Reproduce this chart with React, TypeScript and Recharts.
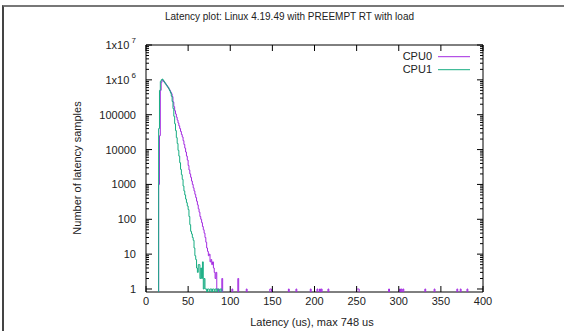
import { ComposedChart, Line, XAxis, YAxis, Legend, ReferenceArea } from "recharts";

// latency histogram, 1 us bins
const CPU0_START = 15;
const CPU0_BODY = [
  1000, 25000, 500000, 850000, 1000000, 950000, 880000, 820000, 760000, 700000,
  650000, 600000, 550000, 500000, 450000, 400000, 330000, 230000, 170000, 130000,
  105000, 85000, 70000, 58000, 48000, 40000, 33000, 27000, 23000, 18000,
  14000, 11000, 8500, 6500, 5000, 3500, 2600, 2000, 1600, 1250,
  1000, 800, 650, 520, 420, 330, 260, 200, 160, 120,
  100, 80, 62, 50, 40, 30, 22, 15, 12, 9,
  10, 6, 7, 5, 6, 4, 3, 2, 3, 1, 1,
];
const CPU0_OUTLIERS: [number, number][] = [
  [90, 2], [102, 1], [109, 2], [119, 1], [147, 1], [148, 1], [169, 1], [178, 1],
  [195, 1], [203, 1], [206, 1], [208, 1], [216, 1], [250, 1], [251, 1], [252, 1],
  [288, 1], [301, 1], [303, 1], [305, 1], [331, 1], [342, 1], [369, 1], [373, 1], [381, 1],
];

const CPU1_START = 15;
const CPU1_BODY = [
  40000, 500000, 900000, 1000000, 1050000, 980000, 900000, 830000, 770000, 710000,
  650000, 600000, 540000, 480000, 420000, 340000, 240000, 150000, 90000, 55000,
  35000, 22000, 15000, 9500, 6500, 4200, 2700, 1900, 1400, 900,
  650, 500, 380, 300, 240, 190, 120, 70, 45, 38,
  30, 25, 15, 9, 7, 4, 3, 5, 5, 2,
  4, 2, 6, 1, 2, 1, 1, 0, 1, 1,
  0, 1, 1, 0, 1, 1, 0, 1, 1, 0,
  1, 1, 0, 1, 1,
];
const CPU1_OUTLIERS: [number, number][] = [];

const SERIES = [
  { key: "cpu0", name: "CPU0", color: "#a32be0" },
  { key: "cpu1", name: "CPU1", color: "#17ad82" },
];

const X_TICKS = [0, 50, 100, 150, 200, 250, 300, 350, 400];
const Y_DECADES = [1, 10, 100, 1000, 10000, 100000, 1000000, 10000000];
const Y_LABELS = ["1", "10", "100", "1000", "10000", "100000", "1x10|6", "1x10|7"];

const Y_MIN = 0.82;
const Y_MAX = 1e7;
const BELOW_FLOOR = 0.1; // empty bins sit under the axis and get clipped

const W = 564;
const H = 331;
const PLOT_LEFT = 146;
const PLOT_TOP = 45;
const PLOT_W = 337;
const PLOT_H = 247;

const FONT = "'Liberation Sans', Arial, sans-serif";
const INK = "#222";

function counts(start: number, body: number[], outliers: [number, number][]) {
  const m = new Map<number, number>();
  body.forEach((v, i) => m.set(start + i, v));
  outliers.forEach(([x, v]) => m.set(x, v));
  return m;
}

const c0 = counts(CPU0_START, CPU0_BODY, CPU0_OUTLIERS);
const c1 = counts(CPU1_START, CPU1_BODY, CPU1_OUTLIERS);
const rows = Array.from({ length: 401 }, (_, us) => {
  const a = c0.get(us) ?? 0;
  const b = c1.get(us) ?? 0;
  return { us, cpu0: a > 0 ? a : BELOW_FLOOR, cpu1: b > 0 ? b : BELOW_FLOOR };
});

const Y_TICKS: number[] = [];
Y_DECADES.forEach((d, i) => {
  Y_TICKS.push(d);
  if (i < Y_DECADES.length - 1) for (let k = 2; k <= 9; k++) Y_TICKS.push(d * k);
});

type TickProps = { x?: number; y?: number; payload?: { value?: number } };

function YTick({ x = 0, y = 0, payload }: TickProps) {
  const v = payload?.value ?? 0;
  const idx = Y_DECADES.indexOf(v);
  const len = idx >= 0 ? 6 : 3;
  const label = idx >= 0 ? Y_LABELS[idx].split("|") : null;
  return (
    <g>
      <line x1={x} x2={x + len} y1={y} y2={y} stroke="#000" />
      <line x1={x + PLOT_W - len} x2={x + PLOT_W} y1={y} y2={y} stroke="#000" />
      {label && (
        <text x={x - 10} y={y} dy="0.36em" textAnchor="end" fontFamily={FONT} fontSize={11} fill={INK}>
          {label[0]}
          {label[1] && (
            <tspan dy={-6} fontSize={8}>
              {" " + label[1]}
            </tspan>
          )}
        </text>
      )}
    </g>
  );
}

function XTick({ x = 0, y = 0, payload }: TickProps) {
  return (
    <g>
      <line x1={x} x2={x} y1={y} y2={y - 6} stroke="#000" />
      <line x1={x} x2={x} y1={y - PLOT_H} y2={y - PLOT_H + 6} stroke="#000" />
      <text x={x} y={y + 13} textAnchor="middle" fontFamily={FONT} fontSize={11} fill={INK}>
        {payload?.value}
      </text>
    </g>
  );
}

function KeyBox({ payload }: { payload?: { value?: string; color?: string }[] }) {
  return (
    <div style={{ width: 100, fontFamily: FONT, fontSize: 11, color: INK }}>
      {(payload ?? []).map((e) => (
        <div key={e.value} style={{ display: "flex", alignItems: "center", height: 13.4 }}>
          <span style={{ width: 60, textAlign: "right", lineHeight: "13px" }}>{e.value}</span>
          <svg width={40} height={13.4} style={{ display: "block" }}>
            <line x1={6} x2={38} y1={6.7} y2={6.7} stroke={e.color} />
          </svg>
        </div>
      ))}
    </div>
  );
}

export default function App() {
  return (
    <div style={{ position: "absolute", left: 0, top: 0, width: W, height: H, overflow: "hidden", background: "#fff" }}>
      <div
        style={{
          position: "absolute",
          left: 2,
          top: 5,
          width: W,
          height: H,
          borderTop: "2px solid #777",
          borderLeft: "2px solid #444",
        }}
      />
      <div
        style={{
          position: "absolute",
          left: 0,
          width: 579,
          top: 10,
          lineHeight: "14px",
          textAlign: "center",
          fontFamily: FONT,
          fontSize: 10,
          color: INK,
        }}
      >
        Latency plot: Linux 4.19.49 with PREEMPT RT with load
      </div>
      <div
        style={{
          position: "absolute",
          left: 162,
          width: 300,
          top: 315,
          lineHeight: "14px",
          textAlign: "center",
          fontFamily: FONT,
          fontSize: 11,
          color: INK,
        }}
      >
        Latency (us), max 748 us
      </div>
      <div
        style={{
          position: "absolute",
          left: -23,
          width: 200,
          top: 161,
          lineHeight: "14px",
          textAlign: "center",
          fontFamily: FONT,
          fontSize: 11,
          color: INK,
          transform: "rotate(-90deg)",
        }}
      >
        Number of latency samples
      </div>
      <div style={{ position: "absolute", left: 0, top: 0 }}>
        <ComposedChart
          width={W}
          height={H}
          data={rows}
          margin={{ top: PLOT_TOP, right: W - PLOT_LEFT - PLOT_W, bottom: 0, left: 0 }}
        >
          <XAxis
            dataKey="us"
            type="number"
            domain={[0, 400]}
            ticks={X_TICKS}
            interval={0}
            allowDataOverflow
            axisLine={false}
            tickLine={false}
            tickSize={0}
            tickMargin={0}
            height={H - PLOT_TOP - PLOT_H}
            tick={<XTick />}
          />
          <YAxis
            type="number"
            scale="log"
            domain={[Y_MIN, Y_MAX]}
            ticks={Y_TICKS}
            interval={0}
            allowDataOverflow
            axisLine={false}
            tickLine={false}
            tickSize={0}
            tickMargin={0}
            width={PLOT_LEFT}
            tick={<YTick />}
          />
          <ReferenceArea x1={0} x2={400} y1={Y_MIN} y2={Y_MAX} fill="none" stroke="#000" strokeWidth={1} />
          {SERIES.map((s) => (
            <Line
              key={s.key}
              dataKey={s.key}
              name={s.name}
              type="stepAfter"
              stroke={s.color}
              strokeWidth={1}
              dot={false}
              activeDot={false}
              isAnimationActive={false}
            />
          ))}
          <Legend
            layout="vertical"
            align="center"
            verticalAlign="middle"
            content={<KeyBox />}
            wrapperStyle={{ left: 372, top: 49.5, width: 100 }}
          />
        </ComposedChart>
      </div>
    </div>
  );
}
